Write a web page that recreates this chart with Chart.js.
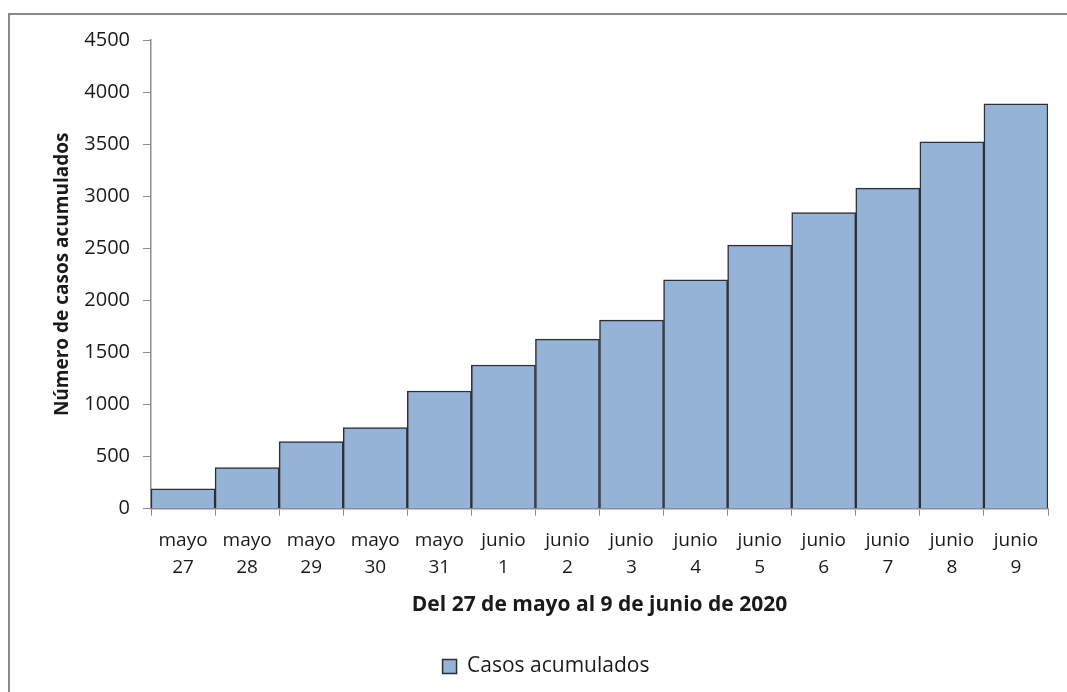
<!DOCTYPE html>
<html>
<head>
<meta charset="utf-8">
<script src="https://cdn.jsdelivr.net/npm/chart.js@4"></script>
<style>
  html, body { margin: 0; padding: 0; background: #fff; overflow: hidden; }
  body { width: 1067px; height: 692px; position: relative; }
  #frame {
    position: absolute; left: 8px; top: 13px; width: 1076px; height: 700px;
    border: 2px solid #8a8a8a; box-sizing: border-box;
  }
  #wrap { position: absolute; left: 0; top: 0; width: 1092px; height: 692px; }
</style>
</head>
<body>
<div id="frame"></div>
<div id="wrap"><canvas id="chart"></canvas></div>
<script>
'use strict';

// Categories: two-line tick labels (month / day)
const dayLabels = [
  ['mayo', '27'], ['mayo', '28'], ['mayo', '29'], ['mayo', '30'], ['mayo', '31'],
  ['junio', '1'], ['junio', '2'], ['junio', '3'], ['junio', '4'], ['junio', '5'],
  ['junio', '6'], ['junio', '7'], ['junio', '8'], ['junio', '9']
];

// Cumulative cases
const casosAcumulados = [190, 395, 645, 780, 1130, 1380, 1628, 1811, 2198, 2531, 2844, 3078, 3522, 3887];

const seriesName = 'Casos acumulados';
const yTitle = 'Número de casos acumulados';
const xTitle = 'Del 27 de mayo al 9 de junio de 2020';

const barColor = '#95b3d7';
const edgeColor = '#2a2f3a';
const axisColor = '#8c8c8c';
const textColor = '#1a1a1a';
const fontFamily = '"Open Sans", "Noto Sans", sans-serif';

// The legend sits centred on the whole (cropped) frame, not on the padded box,
// so nudge it to the right after layout.
const legendShift = {
  id: 'legendShift',
  afterLayout(chart) {
    chart.legend.left += 22;
    chart.legend.right += 22;
  }
};

const ctx = document.querySelector('canvas#chart');

new Chart(ctx, {
  type: 'bar',
  data: {
    labels: dayLabels,
    datasets: [{
      label: seriesName,
      data: casosAcumulados,
      backgroundColor: barColor,
      borderColor: edgeColor,
      borderWidth: 1.5,
      barPercentage: 1,
      categoryPercentage: 1
    }]
  },
  plugins: [legendShift],
  options: {
    responsive: true,
    maintainAspectRatio: false,
    animation: false,
    layout: { padding: { top: 40, right: 44, bottom: 5, left: 0 } },
    plugins: {
      tooltip: { enabled: false },
      legend: {
        position: 'bottom',
        labels: {
          color: textColor,
          font: { family: fontFamily, size: 21 },
          boxWidth: 14,
          boxHeight: 14,
          padding: 10
        }
      }
    },
    scales: {
      x: {
        offset: true,
        grid: {
          offset: true,
          drawOnChartArea: false,
          drawTicks: true,
          tickLength: 7,
          color: axisColor
        },
        border: { display: true, color: axisColor, width: 1.5 },
        ticks: {
          color: textColor,
          font: { family: fontFamily, size: 19, lineHeight: 1.45 },
          padding: 11,
          maxRotation: 0,
          autoSkip: false
        },
        title: {
          display: true,
          text: xTitle,
          color: textColor,
          font: { family: fontFamily, size: 21, weight: 'bold' },
          padding: { top: 0, bottom: 28 }
        }
      },
      y: {
        min: 0,
        max: 4500,
        afterFit: function (scale) { scale.width = 151; },
        grid: {
          drawOnChartArea: false,
          drawTicks: true,
          tickLength: 8,
          color: axisColor
        },
        border: { display: true, color: axisColor, width: 1.5 },
        ticks: {
          stepSize: 500,
          color: textColor,
          font: { family: fontFamily, size: 20 },
          padding: 13,
          callback: function (value) { return String(value); }
        },
        title: {
          display: true,
          text: yTitle,
          color: textColor,
          font: { family: fontFamily, size: 19, weight: 'bold' },
          padding: { top: 51, bottom: 0 }
        }
      }
    }
  }
});
</script>
</body>
</html>
